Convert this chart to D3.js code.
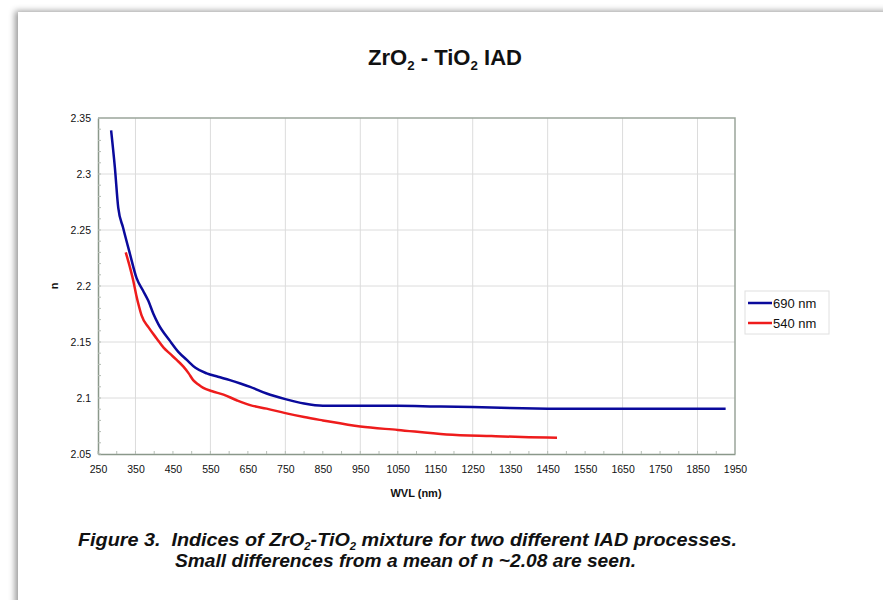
<!DOCTYPE html>
<html>
<head>
<meta charset="utf-8">
<script src="https://cdn.jsdelivr.net/npm/d3@7"></script>
<style>
  html, body { margin: 0; padding: 0; background: #fff; }
  svg { display: block; font-family: "Liberation Sans", Arial, sans-serif; }
  text { white-space: pre; }
</style>
</head>
<body>
<svg id="chart" width="883" height="600"></svg>
<script>
// wavelength (nm), index n
const blue690 = [
  [285, 2.339], [295, 2.306], [304, 2.27], [317, 2.252], [335, 2.229], [353, 2.207],
  [370, 2.196], [384, 2.187], [398, 2.175], [411, 2.166], [442, 2.151], [465, 2.141],
  [487, 2.134], [510, 2.127], [540, 2.122], [570, 2.119], [602, 2.116], [630, 2.113],
  [656, 2.110], [700, 2.104], [750, 2.099], [800, 2.095], [850, 2.093], [950, 2.093],
  [1050, 2.093], [1150, 2.0925], [1250, 2.092], [1350, 2.091], [1450, 2.0905],
  [1650, 2.0903], [1800, 2.0903], [1925, 2.0903]
];
const red540 = [
  [324, 2.23], [335, 2.217], [344, 2.205], [352, 2.192], [360, 2.181], [366, 2.174],
  [385, 2.163], [407, 2.153], [425, 2.145], [442, 2.1396], [460, 2.134], [478, 2.128],
  [492, 2.122], [504, 2.116], [518, 2.112], [531, 2.109], [555, 2.106], [585, 2.103],
  [620, 2.098], [656, 2.0936], [700, 2.0905], [750, 2.0865], [800, 2.083], [850, 2.080],
  [950, 2.0745], [1050, 2.0715], [1180, 2.0675], [1300, 2.066], [1400, 2.065], [1475, 2.0645]
];
const seriesNames = ["690 nm", "540 nm"];
const xTicks = d3.range(250, 1951, 100);
const xMinor = d3.range(250, 1951, 50);
const xGrid = [350, 550, 750, 950, 1050, 1250, 1450, 1650, 1850];
const yTicks = [2.05, 2.1, 2.15, 2.2, 2.25, 2.3, 2.35];
const yMinor = d3.range(2.05, 2.351, 0.01);

const svg = d3.select("#chart");

// card with soft shadow on left/top
const defs = svg.append("defs");
const f = defs.append("filter").attr("id", "shadow")
  .attr("x", "-5%").attr("y", "-5%").attr("width", "110%").attr("height", "110%");
f.append("feDropShadow").attr("dx", -3).attr("dy", -1).attr("stdDeviation", 3)
  .attr("flood-color", "#000").attr("flood-opacity", 0.4);
svg.append("rect").attr("x", 18).attr("y", 12).attr("width", 900).attr("height", 620)
  .attr("fill", "#fff").attr("filter", "url(#shadow)");

const margin = { left: 98, top: 118, right: 735, bottom: 454 };
const x = d3.scaleLinear().domain([250, 1950]).range([margin.left, margin.right]);
const y = d3.scaleLinear().domain([2.05, 2.35]).range([margin.bottom, margin.top]);

// grid
svg.append("g").selectAll("line").data(yTicks.slice(1, -1)).join("line")
  .attr("x1", margin.left).attr("x2", margin.right)
  .attr("y1", d => y(d)).attr("y2", d => y(d))
  .attr("stroke", "#dcdcdc").attr("stroke-width", 1);
svg.append("g").selectAll("line").data(xGrid).join("line")
  .attr("x1", d => x(d)).attr("x2", d => x(d))
  .attr("y1", margin.top).attr("y2", margin.bottom)
  .attr("stroke", "#dcdcdc").attr("stroke-width", 1);

// frame top/right
svg.append("path")
  .attr("d", `M${margin.left},${margin.top}H${margin.right}V${margin.bottom}`)
  .attr("fill", "none").attr("stroke", "#9aa59a").attr("stroke-width", 1.5);

// axes
const xAxis = svg.append("g").attr("transform", `translate(0,${margin.bottom})`)
  .call(d3.axisBottom(x).tickValues(xTicks).tickSize(0).tickPadding(12).tickFormat(d3.format("d")));
const yAxis = svg.append("g").attr("transform", `translate(${margin.left},0)`)
  .call(d3.axisLeft(y).tickValues(yTicks).tickSize(0).tickPadding(7).tickFormat(d3.format("~g")));
[xAxis, yAxis].forEach(a => {
  a.select(".domain").attr("stroke", "#8a988a").attr("stroke-width", 1.5);
  a.selectAll("text").attr("font-family", "Liberation Sans, Arial, sans-serif")
    .attr("font-size", 10.5).attr("fill", "#111");
});

// minor ticks pointing inside
svg.append("g").selectAll("line").data(xMinor).join("line")
  .attr("x1", d => x(d)).attr("x2", d => x(d))
  .attr("y1", margin.bottom).attr("y2", margin.bottom - 3)
  .attr("stroke", "#b5bdb5");
svg.append("g").selectAll("line").data(yMinor).join("line")
  .attr("x1", margin.left).attr("x2", margin.left + 3)
  .attr("y1", d => y(d)).attr("y2", d => y(d))
  .attr("stroke", "#b5bdb5");

// lines
const line = d3.line().x(d => x(d[0])).y(d => y(d[1])).curve(d3.curveMonotoneX);
svg.append("path").datum(blue690).attr("d", line)
  .attr("fill", "none").attr("stroke", "#0a0a9c").attr("stroke-width", 2.5);
svg.append("path").datum(red540).attr("d", line)
  .attr("fill", "none").attr("stroke", "#ee1c1c").attr("stroke-width", 2.5);

// legend
const lg = svg.append("g").attr("transform", "translate(745,291)");
lg.append("rect").attr("width", 84).attr("height", 43)
  .attr("fill", "#fff").attr("stroke", "#e0e0e0");
const colors = ["#0a0a9c", "#ee1c1c"];
seriesNames.forEach((name, i) => {
  lg.append("line").attr("x1", 3).attr("x2", 27)
    .attr("y1", 12 + i * 20).attr("y2", 12 + i * 20)
    .attr("stroke", colors[i]).attr("stroke-width", 2.5);
  lg.append("text").attr("x", 28).attr("y", 16.5 + i * 20)
    .attr("font-size", 13).attr("fill", "#111").text(name);
});

// title
const title = svg.append("text").attr("x", 445).attr("y", 65)
  .attr("text-anchor", "middle").attr("font-size", 21.5).attr("font-weight", "bold").attr("fill", "#111")
  .attr("textLength", 154).attr("lengthAdjust", "spacingAndGlyphs");
title.append("tspan").text("ZrO");
title.append("tspan").attr("font-size", 13).attr("dy", 5).text("2");
title.append("tspan").attr("dy", -5).text(" - TiO");
title.append("tspan").attr("font-size", 13).attr("dy", 5).text("2");
title.append("tspan").attr("dy", -5).text(" IAD");

// axis titles
svg.append("text").attr("x", 416).attr("y", 497).attr("text-anchor", "middle")
  .attr("font-size", 11).attr("font-weight", "bold").attr("fill", "#111").text("WVL (nm)");
svg.append("text").attr("transform", "translate(58,286) rotate(-90)").attr("text-anchor", "middle")
  .attr("font-size", 11).attr("font-weight", "bold").attr("fill", "#111").text("n");

// caption
const cap1 = svg.append("text").attr("x", 78).attr("y", 546)
  .attr("font-size", 17.5).attr("font-weight", "bold").attr("font-style", "italic").attr("fill", "#111")
  .attr("textLength", 659).attr("lengthAdjust", "spacingAndGlyphs");
cap1.append("tspan").text("Figure 3.  Indices of ZrO");
cap1.append("tspan").attr("font-size", 10).attr("dy", 4).text("2");
cap1.append("tspan").attr("dy", -4).text("-TiO");
cap1.append("tspan").attr("font-size", 10).attr("dy", 4).text("2");
cap1.append("tspan").attr("dy", -4).text(" mixture for two different IAD processes.");
svg.append("text").attr("x", 175).attr("y", 567)
  .attr("font-size", 17.5).attr("font-weight", "bold").attr("font-style", "italic").attr("fill", "#111")
  .attr("textLength", 461).attr("lengthAdjust", "spacingAndGlyphs")
  .text("Small differences from a mean of n ~2.08 are seen.");
</script>
</body>
</html>
